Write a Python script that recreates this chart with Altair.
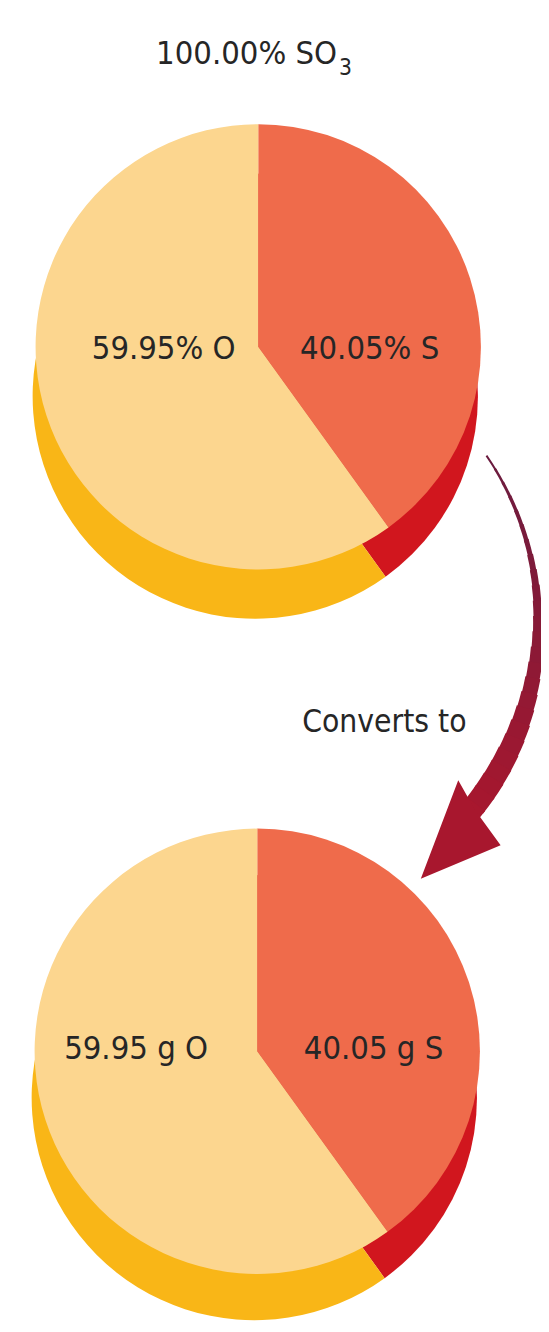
import math
import altair as alt
import pandas as pd

# ---------------- data ----------------
elements = ["S", "O"]
percent_values = [40.05, 59.95]
gram_values = [40.05, 59.95]
compound = "SO"
compound_sub = "3"
compound_percent = 100.00
arrow_caption = "Converts to"

percent_labels = [f"{v:.2f}% {e}" for v, e in zip(percent_values, elements)]
gram_labels = [f"{v:.2f} g {e}" for v, e in zip(gram_values, elements)]

top_df = pd.DataFrame({"element": elements, "value": percent_values, "label": percent_labels})
bot_df = pd.DataFrame({"element": elements, "value": gram_values, "label": gram_labels})
deco = pd.DataFrame({"k": [0]})

# ---------------- styling / layout ----------------
FACE = ["#EF6B4B", "#FCD68F"]   # S, O  (top faces)
SIDE = ["#D1161E", "#F9B617"]   # S, O  (rims)
TEXT = "#262626"
FONT = "DejaVu Sans Condensed, sans-serif"
FS = 33
OFF = 8  # page margin
R = 226


def P(x, y):
    return x - OFF, y - OFF


def pie(df, center, colors, r=R):
    cx, cy = P(*center)
    return alt.Chart(df).mark_arc(radius=r).encode(
        theta=alt.Theta("value:Q", stack=True),
        color=alt.Color("element:N", scale=alt.Scale(domain=elements, range=colors), legend=None),
        order=alt.Order("element:N", sort="descending"),
        x=alt.value(cx),
        y=alt.value(cy),
    )


def label(df, idx, pos, size=FS):
    x, y = P(*pos)
    return alt.Chart(df).transform_filter(
        alt.datum.element == elements[idx]
    ).mark_text(font=FONT, fontSize=size, color=TEXT, align="center", baseline="middle").encode(
        text="label:N", x=alt.value(x), y=alt.value(y)
    )


def free_text(txt, pos, size, align="center", baseline="alphabetic"):
    x, y = P(*pos)
    return alt.Chart(deco).mark_text(
        font=FONT, fontSize=size, color=TEXT, align=align, baseline=baseline, text=txt
    ).encode(x=alt.value(x), y=alt.value(y))


layers = []
# top pie: rim then face
layers.append(pie(top_df, (259, 392), SIDE))
layers.append(pie(top_df, (262, 342), FACE))
# bottom pie
layers.append(pie(bot_df, (258, 1104), SIDE))
layers.append(pie(bot_df, (261, 1057), FACE))

# labels
layers.append(label(top_df, 1, (166, 344)))
layers.append(label(top_df, 0, (375, 344)))
layers.append(label(bot_df, 1, (138, 1055)))
layers.append(label(bot_df, 0, (379, 1055)))

# title and caption
layers.append(free_text(f"{compound_percent:.2f}% {compound}", (342, 55), FS, align="right"))
layers.append(free_text(compound_sub, (344, 66), 23, align="left"))
layers.append(free_text(arrow_caption, (390, 733), 32))

# curved tapered arrow drawn as short arc segments of growing thickness
acx, acy = P(245, 622)
AR = 301
seg_theta = [56, 59, 62, 65, 68, 71, 74, 77, 80, 83, 86, 89, 92, 95, 98, 101,
             104, 107, 110, 113, 116, 119, 122, 125, 128, 131.5]
seg_width = [2, 2.5, 3, 3.5, 4, 4.5, 5, 6, 7, 8, 9, 10, 11, 12.5, 14, 15.5,
             17, 18.5, 20, 21, 22, 22.5, 23, 23, 23]
c_start = (0x6b, 0x1c, 0x3f)
c_end = (0xa8, 0x17, 0x2e)
n = len(seg_width)
for i in range(n):
    f = i / (n - 1)
    col = "#%02x%02x%02x" % tuple(round(a + (b - a) * f) for a, b in zip(c_start, c_end))
    t0 = math.radians(seg_theta[i] - 0.3)
    t1 = math.radians(seg_theta[i + 1] + 0.3)
    w = seg_width[i]
    layers.append(
        alt.Chart(deco).mark_arc(
            theta=t0, theta2=t1, radius=AR + w / 2, radius2=AR - w / 2, color=col
        ).encode(x=alt.value(acx), y=alt.value(acy))
    )

hx, hy = P(467, 832)
layers.append(
    alt.Chart(deco).mark_point(
        shape="M -0.8 1 L -0.04 -1 L 0.3 -0.4 L 0.82 0.32 Z",
        filled=True, size=10000, color="#a8172e", opacity=1, strokeWidth=0,
    ).encode(x=alt.value(hx), y=alt.value(hy))
)

chart = alt.layer(*layers).resolve_scale(color="independent").properties(
    width=541, height=1324, padding=0,
    autosize=alt.AutoSizeParams(type="none"),
).configure_view(stroke=None)

chart.save("out.html", embed_options={"renderer": "svg", "actions": False})
